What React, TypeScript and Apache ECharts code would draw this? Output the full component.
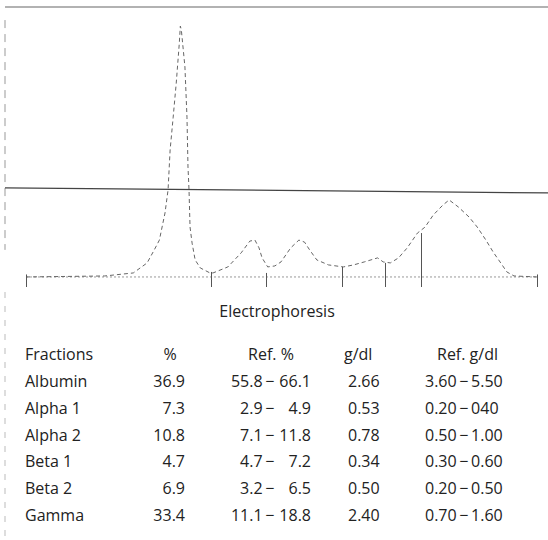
import React, { useEffect, useRef } from "react";
import * as echarts from "echarts";

// Densitometer trace (mobility 0..100 along the baseline, relative absorbance 0..100 at albumin peak)
const traceX = [0, 15.4, 21.0, 23.7, 25.1, 26.1, 27.2, 27.8, 28.2, 28.8, 29.4, 30.0, 30.2, 30.4, 31.1, 31.5, 31.7, 31.9, 32.1, 32.5, 33.1, 34.1, 36.0, 36.6, 39.5, 42.1, 43.8, 44.8, 45.6, 46.2, 47.3, 48.7, 49.9, 51.8, 53.4, 54.5, 55.5, 56.9, 59.2, 62.1, 64.1, 66.2, 68.8, 69.9, 71.3, 72.9, 74.6, 76.6, 78.1, 79.7, 81.6, 82.8, 84.6, 86.7, 88.3, 90.0, 91.4, 92.9, 94.1, 95.5, 100];
const traceY = [0, 0.4, 1.6, 5.6, 10.8, 14.7, 25.5, 34.7, 50.6, 63.7, 77.3, 93.2, 100, 98.4, 83.7, 63.7, 43.8, 34.7, 19.9, 13.5, 6.8, 3.6, 1.6, 1.6, 4.0, 9.6, 14.3, 14.7, 11.6, 7.6, 4.0, 4.4, 6.0, 11.6, 14.7, 13.9, 10.8, 6.8, 4.8, 4.0, 4.8, 6.0, 7.6, 6.0, 5.6, 7.6, 11.6, 17.5, 19.9, 24.7, 28.7, 30.7, 27.9, 23.9, 19.9, 14.7, 10.0, 5.6, 2.0, 0.4, 0];

// Fraction boundaries on the baseline and the height each marker reaches
const boundaryX = [0, 36.2, 47.1, 61.9, 70.3, 77.3, 100];
const boundaryTop = [1, 2, 1.6, 4, 5.6, 17.5, 1];

// Reference (scale) line across the chart, slightly tilted in the scan
const refLineX = [-4.11, 102.15];
const refLineY = [35.5, 33.5];

// Table
const headers = ["Fractions", "%", "Ref. %", "g/dl", "Ref. g/dl"];
const fractions = ["Albumin", "Alpha 1", "Alpha 2", "Beta 1", "Beta 2", "Gamma"];
const percent = ["36.9", "7.3", "10.8", "4.7", "6.9", "33.4"];
const refPctLow = ["55.8", "2.9", "7.1", "4.7", "3.2", "11.1"];
const refPctHigh = ["66.1", "4.9", "11.8", "7.2", "6.5", "18.8"];
const gdl = ["2.66", "0.53", "0.78", "0.34", "0.50", "2.40"];
const refGdlLow = ["3.60", "0.20", "0.50", "0.30", "0.20", "0.70"];
const refGdlHigh = ["5.50", "040", "1.00", "0.60", "0.50", "1.60"];
const title = "Electrophoresis";

const FONT = '"Open Sans", "DejaVu Sans", sans-serif';
const TXT = "#222";
const DASH = "\u2009\u2212\u2009";

export default function App() {
  const ref = useRef<HTMLDivElement>(null);
  useEffect(() => {
    document.body.style.margin = "0";
    const chart = echarts.init(ref.current!, null, { renderer: "svg" });

    const t = (text: string, x: number, y: number, align: string) => ({
      type: "text",
      x,
      y,
      silent: true,
      style: { text, fill: TXT, fontSize: 16, fontFamily: FONT, align, verticalAlign: "middle" },
    });

    const graphics: any[] = [];
    graphics.push(t(title, 277, 311, "center"));
    const headerY = 354;
    graphics.push(t(headers[0], 25, headerY, "left"));
    graphics.push(t(headers[1], 170, headerY, "center"));
    graphics.push(t(headers[2], 271, headerY, "center"));
    graphics.push(t(headers[3], 344, headerY, "left"));
    graphics.push(t(headers[4], 437, headerY, "left"));
    fractions.forEach((f, i) => {
      const y = 381 + i * 26.8;
      graphics.push(t(f, 25, y, "left"));
      graphics.push(t(percent[i], 185, y, "right"));
      graphics.push(t(refPctLow[i] + DASH, 277, y, "right"));
      graphics.push(t(refPctHigh[i], 311, y, "right"));
      graphics.push(t(gdl[i], 348, y, "left"));
      graphics.push(t(refGdlLow[i] + DASH + refGdlHigh[i], 425, y, "left"));
    });
    // faint left frame line through the table area
    graphics.push({
      type: "line",
      silent: true,
      shape: { x1: 5, y1: 292, x2: 5, y2: 536 },
      style: { stroke: "#bbb", lineWidth: 1, lineDash: [6, 8] },
    });

    const boundaryLines = boundaryX.map((b, i) => [
      { coord: [b, -4] },
      { coord: [b, boundaryTop[i]] },
    ]);

    chart.setOption({
      animation: false,
      backgroundColor: "#fff",
      grid: { left: 0, right: 0, top: 0, bottom: 253 },
      xAxis: { type: "value", min: -5.09, max: 102.15, show: false },
      yAxis: { type: "value", min: -4, max: 110.4, show: false },
      graphic: graphics,
      series: [
        {
          type: "line",
          data: [[-4.11, 107.6], [102.15, 107.6]],
          symbol: "none",
          silent: true,
          lineStyle: { color: "#666", width: 1.2 },
        },
        {
          type: "line",
          data: [[-4.11, 102.4], [-4.11, 10.8]],
          symbol: "none",
          silent: true,
          lineStyle: { color: "#999", width: 1, type: [8, 6] },
        },
        {
          type: "line",
          data: refLineX.map((x, i) => [x, refLineY[i]]),
          symbol: "none",
          silent: true,
          lineStyle: { color: "#444", width: 1.2 },
        },
        {
          type: "line",
          data: [[boundaryX[0], 0], [boundaryX[boundaryX.length - 1], 0]],
          symbol: "none",
          silent: true,
          lineStyle: { color: "#999", width: 1, type: [2, 2] },
          markLine: {
            silent: true,
            symbol: "none",
            label: { show: false },
            lineStyle: { color: "#555", width: 1, type: "solid" },
            data: boundaryLines,
          },
        },
        {
          type: "line",
          data: traceX.map((x, i) => [x, traceY[i]]),
          symbol: "none",
          silent: true,
          lineStyle: { color: "#666", width: 1, type: [4, 3] },
        },
      ],
    });
    return () => chart.dispose();
  }, []);
  return <div ref={ref} style={{ width: 548, height: 540 }} />;
}
